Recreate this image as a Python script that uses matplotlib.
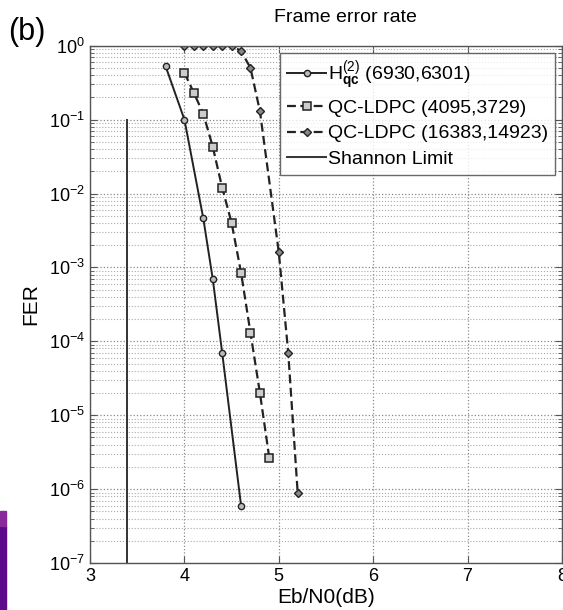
import matplotlib
matplotlib.use("Agg")
import matplotlib.pyplot as plt
from matplotlib.patches import Rectangle
from matplotlib.ticker import LogLocator, NullFormatter

plt.rcParams['font.family'] = ['Liberation Sans', 'DejaVu Sans']
plt.rcParams['mathtext.fontset'] = 'custom'
plt.rcParams['mathtext.rm'] = 'Liberation Sans'
plt.rcParams['mathtext.it'] = 'Liberation Sans'
plt.rcParams['mathtext.bf'] = 'Liberation Sans:bold'

# Data
h_x = [3.8, 4.0, 4.2, 4.3, 4.4, 4.6]
h_y = [0.53, 0.1, 4.6e-3, 7e-4, 7e-5, 6e-7]

qc1_x = [4.0, 4.1, 4.2, 4.3, 4.4, 4.5, 4.6, 4.7, 4.8, 4.9]
qc1_y = [0.43, 0.23, 0.12, 0.043, 0.012, 4e-3, 8.5e-4, 1.3e-4, 2e-5, 2.6e-6]

qc2_x = [4.0, 4.1, 4.2, 4.3, 4.4, 4.5, 4.6, 4.7, 4.8, 5.0, 5.1, 5.2]
qc2_y = [1.0, 1.0, 1.0, 1.0, 1.0, 1.0, 0.85, 0.5, 0.13, 1.6e-3, 7e-5, 9e-7]

shannon_x = [3.39, 3.39]
shannon_y = [1e-7, 1e-1]

labels = [r'H$_{\mathbf{qc}}^{(2)}$ (6930,6301)', 'QC-LDPC (4095,3729)',
          'QC-LDPC (16383,14923)', 'Shannon Limit']
xticks = [3, 4, 5, 6, 7, 8]

fig = plt.figure(figsize=(5.63, 6.10), dpi=100)
ax = fig.add_axes([0.160, 0.077, 0.838, 0.848])

ax.semilogy(h_x, h_y, '-', color='#222222', lw=1.4, marker='o', ms=4.5,
            mfc='#bbbbbb', mec='#222222', mew=1.0, label=labels[0])
ax.semilogy(qc1_x, qc1_y, '--', color='#222222', lw=1.6, marker='s', ms=6,
            mfc='#cccccc', mec='#222222', mew=1.1, dashes=(4, 2), label=labels[1])
ax.semilogy(qc2_x, qc2_y, '--', color='#222222', lw=1.6, marker='D', ms=4.5,
            mfc='#888888', mec='#222222', mew=1.0, dashes=(4, 2), label=labels[2])
ax.semilogy(shannon_x, shannon_y, '-', color='#333333', lw=1.4, label=labels[3])

ax.set_xlim(3, 8)
ax.set_ylim(1e-7, 1)
ax.set_xticks(xticks)
ax.set_xticklabels([str(t) for t in xticks])
ax.yaxis.set_major_locator(LogLocator(base=10, numticks=20))
ax.yaxis.set_minor_locator(LogLocator(base=10, subs=range(2, 10), numticks=20))
ax.yaxis.set_minor_formatter(NullFormatter())

ax.grid(True, which='major', axis='both', linestyle=':', color='#888888', lw=0.9)
ax.grid(True, which='minor', axis='y', linestyle=':', color='#aaaaaa', lw=0.8)
ax.tick_params(which='both', direction='in', top=True, right=True, labelsize=13,
               color='#555555')
ax.tick_params(which='major', length=5)
ax.tick_params(which='minor', length=3)
for s in ax.spines.values():
    s.set_color('#555555')
    s.set_linewidth(1.0)

ax.set_xlabel('Eb/N0(dB)', fontsize=15, labelpad=2)
ax.set_ylabel('FER', fontsize=15, labelpad=6)
fig.text(0.613, 1 - 18 / 610, 'Frame error rate', fontsize=14, ha='center', va='center')

leg = ax.legend(loc='upper right', fontsize=14, frameon=True, fancybox=False,
                edgecolor='#444444', handlelength=2.0, handletextpad=0.1,
                borderpad=0.35, labelspacing=0.4, borderaxespad=0.35)
leg.get_frame().set_linewidth(1.0)

fig.text(0.015, 0.935, '(b)', fontsize=22)

# purple strip at lower-left edge
fig.patches.append(Rectangle((0, 0), 0.011, 0.138, transform=fig.transFigure,
                             color='#5a0a8a', zorder=5))
fig.patches.append(Rectangle((0, 0.138), 0.011, 0.024, transform=fig.transFigure,
                             color='#8a2a9a', zorder=5))

fig.savefig('out.png', dpi=100)
